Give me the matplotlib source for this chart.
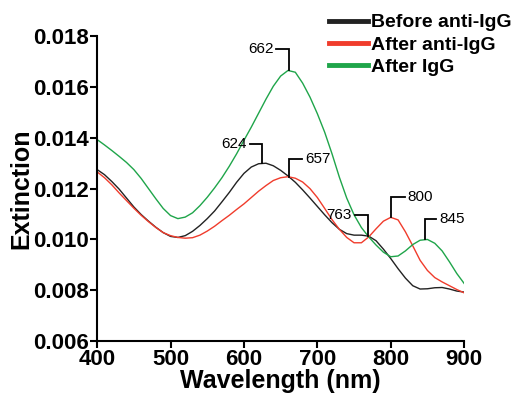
import matplotlib
matplotlib.use('Agg')
import matplotlib.pyplot as plt
import numpy as np

# wavelength grid (nm) and extinction
wavelength = np.arange(400, 901, 10)

before_anti_igg = [0.01275, 0.01255, 0.01228, 0.01198, 0.01163, 0.01128, 0.01098, 0.01072,
                   0.01048, 0.01027, 0.01012, 0.01008, 0.01015, 0.01032, 0.01055, 0.01082,
                   0.01112, 0.01148, 0.01185, 0.01225, 0.01260, 0.01285, 0.01298, 0.01300,
                   0.01290, 0.01272, 0.01250, 0.01225, 0.01195, 0.01163, 0.01130, 0.01097,
                   0.01066, 0.01040, 0.01023, 0.01017, 0.01017, 0.01013, 0.00995, 0.00962,
                   0.00925, 0.00885, 0.00848, 0.00818, 0.00805, 0.00806, 0.00810, 0.00811,
                   0.00805, 0.00797, 0.00793]

after_anti_igg = [0.01266, 0.01243, 0.01215, 0.01183, 0.01153, 0.01123, 0.01095, 0.01070,
                  0.01047, 0.01027, 0.01015, 0.01008, 0.01005, 0.01007, 0.01017, 0.01033,
                  0.01052, 0.01074, 0.01095, 0.01118, 0.01140, 0.01165, 0.01190, 0.01212,
                  0.01232, 0.01243, 0.01247, 0.01241, 0.01226, 0.01200, 0.01165, 0.01122,
                  0.01078, 0.01040, 0.01008, 0.00987, 0.00987, 0.01010, 0.01042, 0.01072,
                  0.01087, 0.01077, 0.01030, 0.00975, 0.00918, 0.00878, 0.00850, 0.00833,
                  0.00818, 0.00803, 0.00790]

after_igg = [0.01393, 0.01372, 0.01350, 0.01327, 0.01303, 0.01275, 0.01240, 0.01200,
             0.01160, 0.01122, 0.01094, 0.01082, 0.01088, 0.01105, 0.01133, 0.01166,
             0.01203, 0.01243, 0.01288, 0.01337, 0.01390, 0.01442, 0.01497, 0.01552,
             0.01603, 0.01643, 0.01665, 0.01658, 0.01615, 0.01560, 0.01495, 0.01422,
             0.01337, 0.01245, 0.01163, 0.01097, 0.01047, 0.01010, 0.00978, 0.00950,
             0.00932, 0.00935, 0.00955, 0.00980, 0.00997, 0.01000, 0.00985, 0.00955,
             0.00912, 0.00866, 0.00827]

labels = ['Before anti-IgG', 'After anti-IgG', 'After IgG']
colors = ['#222222', '#f03c2c', '#1fa54a']

# peak markers: label, x of vertical, y bottom, y top, x end of horizontal
peaks = [('662', 662, 0.01668, 0.01749, 644),
         ('624', 625, 0.01300, 0.01375, 608),
         ('657', 661, 0.01245, 0.01315, 679),
         ('763', 769, 0.01012, 0.01096, 751),
         ('800', 801, 0.01088, 0.01168, 819),
         ('845', 846, 0.01000, 0.01080, 862)]

plt.rcParams['font.family'] = ['Liberation Sans', 'DejaVu Sans']

fig = plt.figure(figsize=(5.14, 3.93), dpi=100)
ax = fig.add_axes([0.189, 0.132, 0.714, 0.776])

for ys, lab, c in zip([before_anti_igg, after_anti_igg, after_igg], labels, colors):
    ax.plot(wavelength, ys, color=c, lw=1.0, label=lab)

for txt, xv, y0, y1, xh in peaks:
    ax.plot([xv, xv, xh], [y0, y1, y1], color='black', lw=1.3, solid_joinstyle='miter')
    if xh < xv:
        ax.text(xh - 4, y1, txt, ha='right', va='center', fontsize=11)
    else:
        ax.text(xh + 4, y1, txt, ha='left', va='center', fontsize=11)

ax.set_xlim(400, 900)
ax.set_ylim(0.006, 0.018)
ax.set_xticks([400, 500, 600, 700, 800, 900])
ax.set_yticks([0.006, 0.008, 0.010, 0.012, 0.014, 0.016, 0.018])
ax.set_yticklabels(['0.006', '0.008', '0.010', '0.012', '0.014', '0.016', '0.018'])
ax.spines['top'].set_visible(False)
ax.spines['right'].set_visible(False)
ax.spines['left'].set_linewidth(1.5)
ax.spines['bottom'].set_linewidth(1.5)
ax.tick_params(direction='out', length=5, width=1.5, pad=1, labelsize=16)
for t in ax.get_xticklabels() + ax.get_yticklabels():
    t.set_fontweight('bold')
ax.set_xlabel('Wavelength (nm)', fontsize=18, fontweight='bold', labelpad=-1)
ax.set_ylabel('Extinction', fontsize=18, fontweight='bold', labelpad=0)

leg = fig.legend(loc='upper right', bbox_to_anchor=(1.0, 0.97), frameon=False,
                 prop={'weight': 'bold', 'size': 14}, handlelength=2.0,
                 handletextpad=0.2, labelspacing=0.25, borderpad=0.1, borderaxespad=0)
for line in leg.get_lines():
    line.set_linewidth(3.5)

fig.savefig('out.png', dpi=100)
